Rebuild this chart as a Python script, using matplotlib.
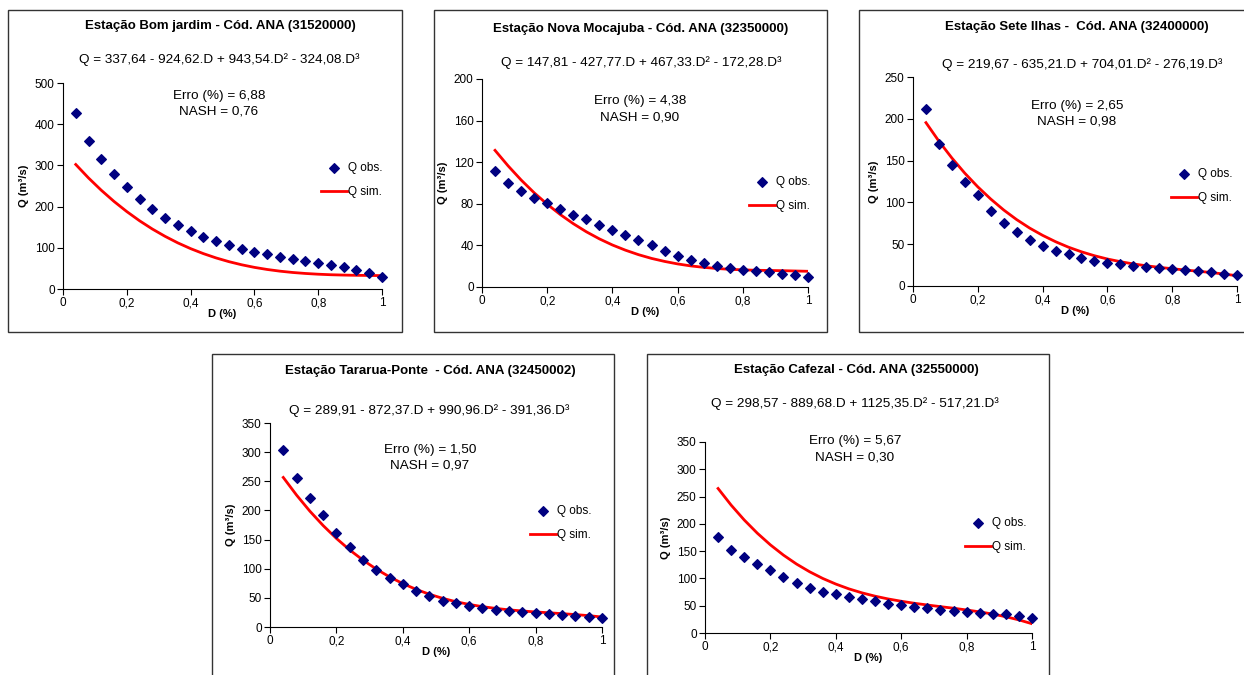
import numpy as np
import matplotlib
matplotlib.use("Agg")
import matplotlib.pyplot as plt
from matplotlib.patches import Rectangle

plt.rcParams["font.family"] = ["Liberation Sans", "DejaVu Sans"]

W, H = 1244, 675

# ── data ─────────────────────────────────────────────────────────
D = [0.04, 0.08, 0.12, 0.16, 0.20, 0.24, 0.28, 0.32, 0.36, 0.40, 0.44, 0.48, 0.52,
     0.56, 0.60, 0.64, 0.68, 0.72, 0.76, 0.80, 0.84, 0.88, 0.92, 0.96, 1.00]

titles = ["Estação Bom jardim - Cód. ANA (31520000)",
          "Estação Nova Mocajuba - Cód. ANA (32350000)",
          "Estação Sete Ilhas -  Cód. ANA (32400000)",
          "Estação Tararua-Ponte  - Cód. ANA (32450002)",
          "Estação Cafezal - Cód. ANA (32550000)"]
equations = ["Q = 337,64 - 924,62.D + 943,54.D² - 324,08.D³",
             "Q = 147,81 - 427,77.D + 467,33.D² - 172,28.D³",
             "Q = 219,67 - 635,21.D + 704,01.D² - 276,19.D³",
             "Q = 289,91 - 872,37.D + 990,96.D² - 391,36.D³",
             "Q = 298,57 - 889,68.D + 1125,35.D² - 517,21.D³"]
erro = ["6,88", "4,38", "2,65", "1,50", "5,67"]
nash = ["0,76", "0,90", "0,98", "0,97", "0,30"]

obs_bom = [426, 360, 315, 280, 248, 219, 194, 173, 156, 141, 127, 116, 106,
           98, 90, 84, 78, 73, 67, 63, 59, 53, 47, 38, 30]
sim_bom = [302.2, 269.5, 239.7, 212.5, 187.9, 165.6, 145.6, 127.8, 111.9, 98.0, 85.9, 75.4, 66.4,
           58.8, 52.5, 47.4, 43.3, 40.1, 37.7, 35.9, 34.6, 33.8, 33.2, 32.9, 32.5]

obs_nova = [111.7, 100, 92.5, 86, 81, 75, 69, 65, 60, 55, 50, 45.4, 40,
            35, 30, 26, 23, 20.5, 18, 16.6, 15.4, 14, 12.8, 11.2, 10]
sim_nova = [131.4, 116.5, 102.9, 90.6, 79.6, 69.7, 60.9, 53.1, 46.3, 40.4, 35.4, 31.1, 27.5,
            24.6, 22.2, 20.3, 18.9, 17.8, 17.0, 16.5, 16.1, 15.9, 15.7, 15.4, 15.1]

obs_sete = [211.6, 170, 145, 125, 109, 90, 75, 64, 55, 48, 42, 38, 34,
            30, 27.6, 26, 24.4, 22.8, 22, 20.8, 19.6, 18.4, 16.4, 14.8, 13.6]
sim_sete = [195.4, 173.2, 153.1, 134.9, 118.6, 104.0, 90.9, 79.4, 69.3, 60.6, 53.0, 46.4, 40.9,
            36.2, 32.3, 29.1, 26.4, 24.2, 22.3, 20.7, 19.1, 17.7, 16.1, 14.3, 12.3]

obs_tara = [304, 256, 222, 192, 162, 138, 115, 97, 84, 73, 62, 53, 45,
            41, 36, 32, 29, 27.5, 26, 24, 22, 21, 19, 17, 15]
sim_tara = [256.6, 226.3, 198.8, 174.1, 152.0, 132.2, 114.8, 99.4, 86.0, 74.5, 64.6, 56.2, 49.2,
            43.4, 38.7, 34.9, 31.9, 29.4, 27.5, 25.8, 24.4, 22.9, 21.3, 19.5, 17.1]

obs_cafe = [176, 153, 140, 127, 115, 102, 92, 83, 76, 71, 66, 62, 58,
            54, 51, 48, 46, 43, 41, 39, 37, 35, 34, 31, 28]
sim_cafe = [264.8, 234.3, 207.1, 182.9, 161.5, 142.7, 126.3, 112.2, 100.0, 89.7, 80.9, 73.6, 67.5,
            62.4, 58.2, 54.5, 51.3, 48.3, 45.4, 42.2, 38.7, 34.7, 29.8, 24.0, 17.0]

obs_all = [obs_bom, obs_nova, obs_sete, obs_tara, obs_cafe]
sim_all = [sim_bom, sim_nova, sim_sete, sim_tara, sim_cafe]
y_max = [500, 200, 250, 350, 350]
y_step = [100, 40, 50, 50, 50]

# ── layout (pixels of the 1244x675 picture) ─────────────────────
boxes = [(8, 10, 402, 332), (434, 10, 827, 332), (859, 10, 1250, 332),
         (212, 354, 614, 680), (647, 354, 1049, 680)]
axes_px = [(63, 83, 382, 289), (482, 79, 808, 287), (913, 77, 1237, 286),
           (270, 423, 602, 627), (705, 442, 1032, 633)]
title_pos = [(220, 26), (641, 29), (1077, 27), (430, 371), (856, 370)]
eq_pos = [(219, 60), (641, 63), (1082, 65), (429, 411), (855, 404)]
erro_pos = [(219, 96), (640, 101), (1077, 106), (430, 450), (855, 441)]
leg_pos = [(315, 180), (743, 194), (1165, 186), (524, 523), (959, 535)]


def fx(x):
    return x / W


def fy(y):
    return 1 - y / H


fig = plt.figure(figsize=(W / 100, H / 100), dpi=100, facecolor="white")

for i in range(5):
    bx0, by0, bx1, by1 = boxes[i]
    fig.patches.append(Rectangle((fx(bx0), fy(by1)), fx(bx1 - bx0), (by1 - by0) / H,
                                 transform=fig.transFigure, fill=False,
                                 edgecolor="#333333", lw=1.0))

    x0, yt, x1, yb = axes_px[i]
    ax = fig.add_axes([fx(x0), fy(yb), fx(x1 - x0), (yb - yt) / H])
    ax.scatter(D, obs_all[i], marker="D", s=24, color="#000080", zorder=3,
               label="Q obs.", clip_on=False)
    ax.plot(D, sim_all[i], color="#FF0000", lw=2, zorder=2, label="Q sim.")
    ax.set_xlim(0, 1)
    ax.set_ylim(0, y_max[i])
    ax.set_xticks(np.arange(0, 1.01, 0.2))
    ax.set_xticklabels(["0", "0,2", "0,4", "0,6", "0,8", "1"])
    ax.set_yticks(np.arange(0, y_max[i] + 1, y_step[i]))
    for s in ["top", "right"]:
        ax.spines[s].set_visible(False)
    ax.spines["left"].set_color("black")
    ax.spines["bottom"].set_color("black")
    ax.tick_params(axis="both", labelsize=8.5, length=4, width=0.8, direction="out", pad=2)
    ax.set_xlabel("D (%)", fontsize=8, fontweight="bold", labelpad=0)
    ax.set_ylabel("Q (m³/s)", fontsize=8, fontweight="bold", labelpad=4)

    fig.text(fx(title_pos[i][0]), fy(title_pos[i][1]), titles[i], ha="center", va="center",
             fontsize=9.5, fontweight="bold")
    fig.text(fx(eq_pos[i][0]), fy(eq_pos[i][1]), equations[i], ha="center", va="center",
             fontsize=9.7)
    fig.text(fx(erro_pos[i][0]), fy(erro_pos[i][1]), f"Erro (%) = {erro[i]}",
             ha="center", va="center", fontsize=9.7)
    fig.text(fx(erro_pos[i][0]), fy(erro_pos[i][1] + 16), f"NASH = {nash[i]}",
             ha="center", va="center", fontsize=9.7)

    ax.legend(loc="center left", bbox_to_anchor=(fx(leg_pos[i][0]), fy(leg_pos[i][1])),
              bbox_transform=fig.transFigure, frameon=False, fontsize=8.5,
              handlelength=2.2, handletextpad=0.1, labelspacing=1.0, borderpad=0)

fig.savefig("out.png", dpi=100, facecolor="white")
